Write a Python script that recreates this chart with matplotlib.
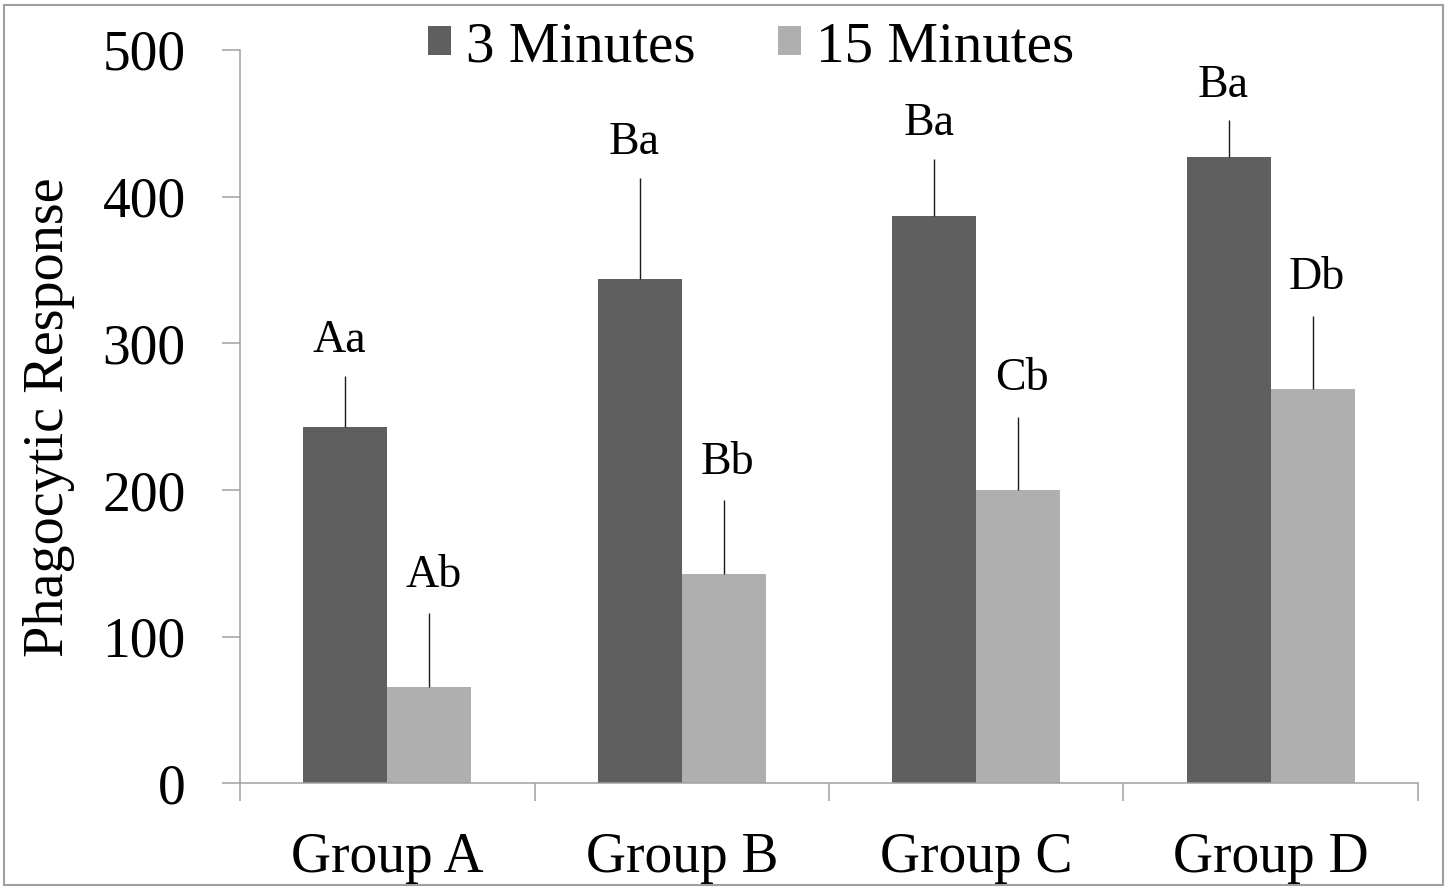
import numpy as np
import matplotlib
matplotlib.use('Agg')
import matplotlib.pyplot as plt
from matplotlib.patches import Rectangle

# dados
grupos = ['Group A', 'Group B', 'Group C', 'Group D']
series = ['3 Minutes', '15 Minutes']
resp_3min = [243, 344, 387, 427]
resp_15min = [66, 143, 200, 269]
erro_3min = [35, 69, 39, 25]
erro_15min = [50, 50, 50, 50]
letras_3min = ['Aa', 'Ba', 'Ba', 'Ba']
letras_15min = ['Ab', 'Bb', 'Cb', 'Db']

COR_ESCURA = '#5f5f5f'
COR_CLARA = '#afafaf'
COR_EIXO = '#a0a0a0'

plt.rcParams['font.family'] = ['Liberation Serif', 'DejaVu Serif']

fig = plt.figure(figsize=(14.53, 8.88), dpi=100)
ax = fig.add_axes([0.1652, 0.1177, 0.8107, 0.826])

x = np.arange(len(grupos))
largura = 0.285

b1 = ax.bar(x - largura / 2, resp_3min, largura, color=COR_ESCURA, label=series[0])
b2 = ax.bar(x + largura / 2, resp_15min, largura, color=COR_CLARA, label=series[1])

# barras de erro so para cima, sem "cap"
ax.errorbar(x - largura / 2, resp_3min, yerr=[np.zeros(len(x)), erro_3min],
            fmt='none', ecolor='#1a1a1a', elinewidth=1.0, capsize=0)
ax.errorbar(x + largura / 2, resp_15min, yerr=[np.zeros(len(x)), erro_15min],
            fmt='none', ecolor='#1a1a1a', elinewidth=1.0, capsize=0)

# letras de significancia
for i in range(len(x)):
    ax.annotate(letras_3min[i], (x[i] - largura / 2, resp_3min[i] + erro_3min[i]),
                xytext=(-4, 17), textcoords='offset points', ha='center', va='baseline',
                fontsize=33)
    ax.annotate(letras_15min[i], (x[i] + largura / 2, resp_15min[i] + erro_15min[i]),
                xytext=(3, 19), textcoords='offset points', ha='center', va='baseline',
                fontsize=33)

ax.set_xlim(-0.5, len(grupos) - 0.5)
ax.set_ylim(0, 500)
ax.set_yticks([0, 100, 200, 300, 400, 500])

# ticks maiores nas divisas, rotulos nos centros
ax.set_xticks(np.arange(len(grupos) + 1) - 0.5)
ax.set_xticklabels([])
ax.set_xticks(x, minor=True)
ax.set_xticklabels(grupos, minor=True)
ax.tick_params(axis='x', which='major', direction='out', length=13, width=1.1, color=COR_EIXO)
ax.tick_params(axis='x', which='minor', length=0, pad=35, labelsize=40)
ax.tick_params(axis='y', direction='out', length=13, width=1.1, color=COR_EIXO,
               pad=26, labelsize=40)

for lado in ['top', 'right']:
    ax.spines[lado].set_visible(False)
for lado in ['left', 'bottom']:
    ax.spines[lado].set_color(COR_EIXO)
    ax.spines[lado].set_linewidth(1.1)

ax.set_ylabel('Phagocytic Response', fontsize=40.5, labelpad=20)

fig.legend(handles=[b1, b2], loc='center', bbox_to_anchor=(0.517, 0.947), ncol=2,
           frameon=False, fontsize=41, handlelength=0.4, handleheight=0.4,
           handletextpad=0.27, columnspacing=1.45)

# moldura externa
fig.patches.append(Rectangle((4 / 1453, 3 / 888), 1439 / 1453, 880 / 888,
                             transform=fig.transFigure, fill=False,
                             edgecolor=COR_EIXO, linewidth=1.5))

fig.savefig('out.png', dpi=100)
